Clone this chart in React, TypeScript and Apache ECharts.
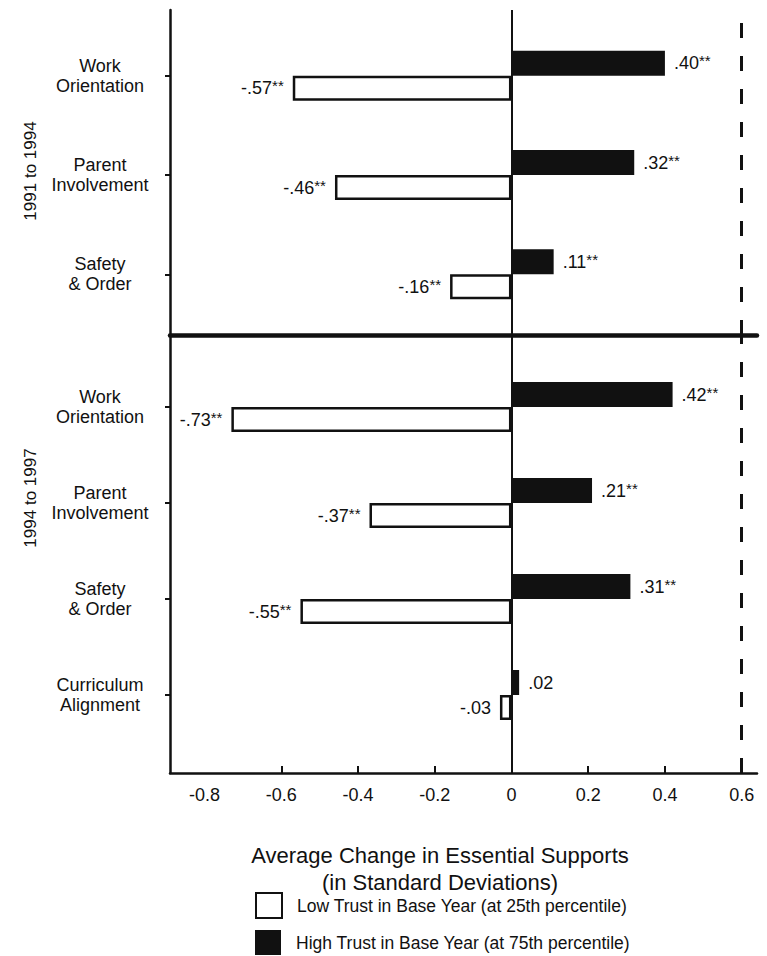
import React, { useEffect, useRef } from 'react';
import * as echarts from 'echarts';

const FONT = '"Liberation Sans Narrow", "Arial Narrow", "Liberation Sans", Arial, sans-serif';

const periods = ['1991 to 1994', '1994 to 1997'];
const catsTop = ['Work\nOrientation', 'Parent\nInvolvement', 'Safety\n& Order'];
const lowTop = [-0.57, -0.46, -0.16];
const highTop = [0.4, 0.32, 0.11];
const sigLowTop = ['**', '**', '**'];
const sigHighTop = ['**', '**', '**'];

const catsBottom = ['Work\nOrientation', 'Parent\nInvolvement', 'Safety\n& Order', 'Curriculum\nAlignment'];
const lowBottom = [-0.73, -0.37, -0.55, -0.03];
const highBottom = [0.42, 0.21, 0.31, 0.02];
const sigLowBottom = ['**', '**', '**', ''];
const sigHighBottom = ['**', '**', '**', ''];

const xTickLabels = [-0.8, -0.6, -0.4, -0.2, 0, 0.2, 0.4, 0.6];
const xTickMarks = [-0.6, -0.4, -0.2, 0, 0.2, 0.4, 0.6];
const xMin = -0.89;
const xMax = 0.64;
const refValue = 0.6;

const LOW = 'Low Trust in Base Year (at 25th percentile)';
const HIGH = 'High Trust in Base Year (at 75th percentile)';
const axisTitle = 'Average Change in Essential Supports\n(in Standard Deviations)';

function fmt(v: number, s: string) {
  const t = (v < 0 ? '-' : '') + Math.abs(v).toFixed(2).replace(/^0/, '');
  return s ? `{v|${t}}{s|${s}}` : `{v|${t}}`;
}

const labelRich = {
  v: { fontSize: 18, fontFamily: FONT, color: '#111', lineHeight: 20 },
  s: { fontSize: 15, fontFamily: FONT, color: '#111', lineHeight: 20, verticalAlign: 'top' as const },
};

function barSeries(name: string, data: number[], sig: string[], gi: number, high: boolean) {
  return {
    type: 'bar',
    name,
    xAxisIndex: gi,
    yAxisIndex: gi,
    data,
    barWidth: 25,
    barGap: '0%',
    itemStyle: high
      ? { color: '#111', borderColor: '#111', borderWidth: 0 }
      : { color: '#ffffff', borderColor: '#111', borderWidth: 2.5 },
    label: {
      show: true,
      position: high ? 'right' : 'left',
      distance: 9,
      formatter: (p: any) => fmt(p.value, sig[p.dataIndex]),
      rich: labelRich,
    },
  };
}

function frameSeries(gi: number) {
  return {
    type: 'line',
    name: 'frame' + gi,
    xAxisIndex: gi,
    yAxisIndex: gi,
    data: [],
    silent: true,
    markLine: {
      silent: true,
      symbol: ['none', 'none'],
      label: { show: false },
      animation: false,
      data: [
        { xAxis: 0, lineStyle: { color: '#111', width: 2, type: 'solid' } },
        { xAxis: refValue, lineStyle: { color: '#111', width: 3, type: [15, 18] } },
      ],
    },
  };
}

function catAxis(gi: number, cats: string[]) {
  return {
    type: 'category',
    gridIndex: gi,
    data: cats,
    inverse: true,
    axisLine: { show: false, onZero: false },
    axisTick: { show: true, length: 5, alignWithLabel: true, lineStyle: { color: '#111', width: 2 } },
    axisLabel: {
      margin: 70,
      align: 'center',
      fontSize: 18,
      lineHeight: 20,
      fontFamily: FONT,
      color: '#111',
    },
    splitLine: { show: false },
  };
}

function frameY(gi: number) {
  return {
    type: 'value',
    gridIndex: gi,
    min: 0,
    max: 1,
    axisLine: { show: true, onZero: false, lineStyle: { color: '#111', width: 2.5 } },
    axisTick: { show: false },
    axisLabel: { show: false },
    splitLine: { show: false },
  };
}

function legendFor(name: string, top: number) {
  return {
    data: [name],
    orient: 'horizontal',
    left: 255,
    top,
    padding: 0,
    itemWidth: 26,
    itemHeight: 25,
    icon: 'rect',
    selectedMode: false,
    textStyle: { fontSize: 17.5, fontFamily: FONT, color: '#111', padding: [0, 0, 0, 10] },
  };
}

export default function App() {
  const ref = useRef<HTMLDivElement>(null);
  useEffect(() => {
    if (!ref.current) return;
    const chart = echarts.init(ref.current, null, { renderer: 'svg' });
    const baseX = { type: 'value', min: xMin, max: xMax, splitLine: { show: false } };
    chart.setOption({
      animation: false,
      backgroundColor: '#ffffff',
      textStyle: { fontFamily: FONT },
      grid: [
        { left: 170, right: 10, top: 10, height: 325 },
        { left: 170, right: 10, top: 335, height: 438 },
        { left: 170, right: 10, top: 26, height: 298 },
        { left: 170, right: 10, top: 359, height: 384 },
      ],
      xAxis: [
        {
          ...baseX,
          gridIndex: 0,
          axisLine: { show: true, onZero: false, lineStyle: { color: '#111', width: 4.5 } },
          axisTick: { show: false },
          axisLabel: { show: false },
        },
        {
          ...baseX,
          gridIndex: 1,
          axisLine: { show: true, onZero: false, lineStyle: { color: '#111', width: 2.5 } },
          axisTick: { show: true, inside: true, length: 7, customValues: xTickMarks, lineStyle: { color: '#111', width: 2 } },
          axisLabel: {
            show: true,
            customValues: xTickLabels,
            margin: 13,
            fontSize: 18,
            fontFamily: FONT,
            color: '#111',
            formatter: (v: number) => String(Math.round(v * 10) / 10),
          },
        },
        { ...baseX, gridIndex: 2, show: false },
        { ...baseX, gridIndex: 3, show: false },
      ],
      yAxis: [frameY(0), frameY(1), catAxis(2, catsTop), catAxis(3, catsBottom)],
      legend: [legendFor(LOW, 892), legendFor(HIGH, 930)],
      graphic: [
        {
          type: 'text',
          x: 30,
          y: 171,
          rotation: Math.PI / 2,
          style: { text: periods[0], fontSize: 17, fontFamily: FONT, fill: '#111', align: 'center', verticalAlign: 'middle' },
        },
        {
          type: 'text',
          x: 30,
          y: 498,
          rotation: Math.PI / 2,
          style: { text: periods[1], fontSize: 17, fontFamily: FONT, fill: '#111', align: 'center', verticalAlign: 'middle' },
        },
        {
          type: 'text',
          x: 440,
          y: 869,
          style: {
            text: axisTitle,
            fontSize: 22,
            lineHeight: 27,
            fontFamily: FONT,
            fill: '#111',
            align: 'center',
            verticalAlign: 'middle',
          },
        },
      ],
      series: [
        frameSeries(0),
        frameSeries(1),
        barSeries(HIGH, highTop, sigHighTop, 2, true),
        barSeries(LOW, lowTop, sigLowTop, 2, false),
        barSeries(HIGH, highBottom, sigHighBottom, 3, true),
        barSeries(LOW, lowBottom, sigLowBottom, 3, false),
      ],
    });
    return () => chart.dispose();
  }, []);
  return (
    <div
      ref={ref}
      style={{ position: 'absolute', left: 0, top: 0, width: 767, height: 956, background: '#ffffff' }}
    />
  );
}
